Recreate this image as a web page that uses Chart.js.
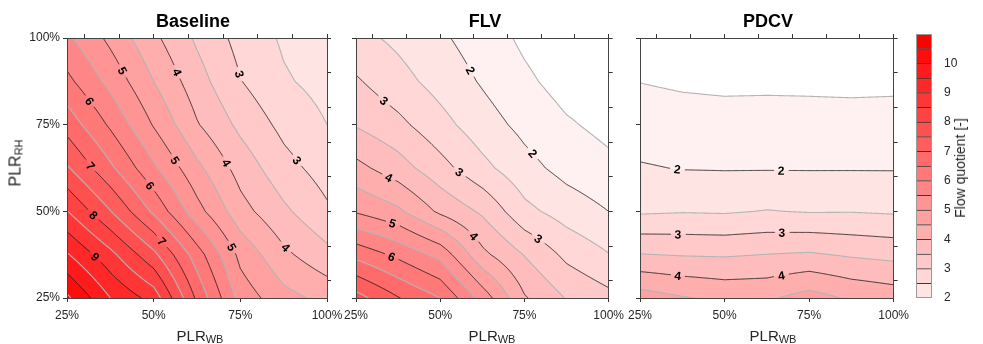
<!DOCTYPE html>
<html>
<head>
<meta charset="utf-8">
<script src="https://cdn.jsdelivr.net/npm/chart.js@4.4.1/dist/chart.umd.min.js"></script>
<style>
  body { margin: 0; background: #fff; }
  #wrap { position: relative; width: 983px; height: 344px; overflow: hidden;
          font-family: "Liberation Sans", Arial, sans-serif; color: #262626; }
  canvas { position: absolute; top: 0; }
  .title { position: absolute; top: 12px; font-size: 18px; font-weight: bold; line-height: 18px;
           color: #000; transform: translateX(-50%); white-space: nowrap; }
  .xlab { position: absolute; top: 328px; font-size: 15px; line-height: 16px;
          transform: translateX(-50%); white-space: nowrap; }
  .xlab sub, .ylab sub { font-size: 11px; vertical-align: -2px; }
  .ylab { position: absolute; font-size: 16px; line-height: 16px; white-space: nowrap;
          transform: translate(-50%, -50%) rotate(-90deg); }
  .cblab { position: absolute; font-size: 14px; line-height: 14px; white-space: nowrap;
           transform: translate(-50%, -50%) rotate(-90deg); }
</style>
</head>
<body>
<div id="wrap">
  <canvas id="baseline" width="350" height="344" style="left:0px"></canvas>
  <canvas id="flv" width="300" height="344" style="left:330px"></canvas>
  <canvas id="pdcv" width="300" height="344" style="left:615px"></canvas>
  <canvas id="cbar" width="83" height="344" style="left:900px"></canvas>

  <div class="title" style="left:193px">Baseline</div>
  <div class="title" style="left:485px">FLV</div>
  <div class="title" style="left:768px">PDCV</div>

  <div class="xlab" style="left:200px">PLR<sub>WB</sub></div>
  <div class="xlab" style="left:492px">PLR<sub>WB</sub></div>
  <div class="xlab" style="left:773px">PLR<sub>WB</sub></div>

  <div class="ylab" style="left:17px; top:163px">PLR<sub>RH</sub></div>
  <div class="cblab" style="left:960px; top:168px">Flow quotient [-]</div>
</div>

<script>
const FONT = '"Liberation Sans", Arial, sans-serif';

// ===== Data =====
// grid of part load ratios [%], rows follow gridY (bottom -> top), columns follow gridX
const gridX = [25, 37.5, 50, 62.5, 75, 87.5, 100];
const gridY = [25, 37.5, 50, 62.5, 75, 87.5, 100];

const baseline = [
  [10.6, 9.5, 8.8, 6.9, 5.3, 4.67, 4.35],
  [9.55, 8.65, 7.63, 6.24, 4.86, 4.11, 3.65],
  [8.52, 7.52, 6.4, 5.19, 4.19, 3.6, 3.08],
  [7.56, 6.6, 5.59, 4.62, 3.8, 3.18, 2.78],
  [6.8, 5.92, 4.96, 4.04, 3.38, 2.86, 2.5],
  [6.13, 5.35, 4.5, 3.71, 3.02, 2.56, 2.33],
  [5.6, 4.88, 4.11, 3.42, 2.83, 2.43, 2.2]
];

const flv = [
  [7.7, 7.03, 6.5, 5.3, 4.05, 3.47, 3.15],
  [6.35, 5.88, 5.34, 4.13, 3.48, 2.88, 2.52],
  [4.95, 4.6, 3.9, 3.42, 2.64, 2.28, 2.0],
  [4.15, 3.72, 3.18, 2.64, 2.17, 1.83, 1.62],
  [3.46, 3.13, 2.67, 2.22, 1.86, 1.56, 1.36],
  [3.06, 2.68, 2.31, 1.95, 1.6, 1.3, 1.2],
  [2.65, 2.39, 2.08, 1.76, 1.4, 1.15, 1.1]
];

const pdcv = [
  [4.75, 4.54, 4.4, 4.42, 4.71, 4.43, 4.28],
  [3.52, 3.47, 3.45, 3.51, 3.56, 3.44, 3.36],
  [2.43, 2.47, 2.45, 2.52, 2.47, 2.48, 2.44],
  [2.04, 1.98, 1.97, 1.97, 1.97, 1.97, 1.97],
  [1.76, 1.71, 1.69, 1.71, 1.69, 1.68, 1.69],
  [1.49, 1.43, 1.4, 1.4, 1.4, 1.39, 1.4],
  [1.2, 1.15, 1.12, 1.12, 1.12, 1.1, 1.12]
];

const contourLevels = [1.5, 2, 2.5, 3, 3.5, 4, 4.5, 5, 5.5, 6, 6.5, 7, 7.5, 8, 8.5, 9, 9.5, 10, 10.5];
const colorbarLevels = [2, 2.5, 3, 3.5, 4, 4.5, 5, 5.5, 6, 6.5, 7, 7.5, 8, 8.5, 9, 9.5, 10, 10.5, 11];
const colorbarTicks = [2, 3, 4, 5, 6, 7, 8, 9, 10];
const mainTicks = [25, 50, 75, 100];
const minorTicks = [30, 40, 50, 60, 70, 80, 90, 100];

// ===== Helpers =====
function bandColor(v) {
  if (v < 1.5) return [255, 255, 255];
  let lo = 1.5;
  for (const l of contourLevels) if (v >= l) lo = l;
  const g = Math.max(0, Math.round(228 * (10.5 - lo) / 8.5));
  return [255, g, g];
}

function locate(arr, v) {
  if (v <= arr[0]) return [0, 0];
  for (let i = 0; i < arr.length - 1; i++) {
    if (v <= arr[i + 1]) return [i, (v - arr[i]) / (arr[i + 1] - arr[i])];
  }
  return [arr.length - 2, 1];
}

function interp(grid, xv, yv) {
  const [i, tx] = locate(gridX, xv);
  const [j, ty] = locate(gridY, yv);
  const a = grid[j][i], b = grid[j][i + 1], c = grid[j + 1][i], d = grid[j + 1][i + 1];
  return a * (1 - tx) * (1 - ty) + b * tx * (1 - ty) + c * (1 - tx) * ty + d * tx * ty;
}

// marching squares on a (refined) grid, returns segments with edge keys
function marching(xs, ys, z, L) {
  const segs = [];
  for (let j = 0; j < ys.length - 1; j++) {
    for (let i = 0; i < xs.length - 1; i++) {
      const v0 = z[j][i], v1 = z[j][i + 1], v2 = z[j + 1][i + 1], v3 = z[j + 1][i];
      const ab = [v0 > L, v1 > L, v2 > L, v3 > L];
      const idx = ab[0] | (ab[1] << 1) | (ab[2] << 2) | (ab[3] << 3);
      if (idx === 0 || idx === 15) continue;
      const E = e => {
        if (e === 0) return { key: 'h' + i + '_' + j, p: [xs[i] + (xs[i + 1] - xs[i]) * (L - v0) / (v1 - v0), ys[j]] };
        if (e === 1) return { key: 'v' + (i + 1) + '_' + j, p: [xs[i + 1], ys[j] + (ys[j + 1] - ys[j]) * (L - v1) / (v2 - v1)] };
        if (e === 2) return { key: 'h' + i + '_' + (j + 1), p: [xs[i] + (xs[i + 1] - xs[i]) * (L - v3) / (v2 - v3), ys[j + 1]] };
        return { key: 'v' + i + '_' + j, p: [xs[i], ys[j] + (ys[j + 1] - ys[j]) * (L - v0) / (v3 - v0)] };
      };
      const crossed = [0, 1, 2, 3].filter(e => ab[e] !== ab[(e + 1) % 4]);
      let pairs;
      if (crossed.length === 2) {
        pairs = [crossed];
      } else {
        const c = (v0 + v1 + v2 + v3) / 4 > L;
        if (idx === 5) pairs = c ? [[0, 1], [2, 3]] : [[3, 0], [1, 2]];
        else pairs = c ? [[3, 0], [1, 2]] : [[0, 1], [2, 3]];
      }
      for (const [e1, e2] of pairs) {
        const A = E(e1), B = E(e2);
        segs.push({ a: A.key, b: B.key, pa: A.p, pb: B.p });
      }
    }
  }
  return segs;
}

function joinSegments(segs) {
  const map = new Map();
  segs.forEach((s, i) => {
    [s.a, s.b].forEach(k => {
      if (!map.has(k)) map.set(k, []);
      map.get(k).push(i);
    });
  });
  const used = new Array(segs.length).fill(false);
  const walk = (startIdx, startKey) => {
    const s0 = segs[startIdx];
    const pts = [startKey === s0.a ? s0.pa : s0.pb];
    let idx = startIdx, key = startKey;
    while (idx !== -1 && !used[idx]) {
      used[idx] = true;
      const s = segs[idx];
      const fromA = key === s.a;
      pts.push(fromA ? s.pb : s.pa);
      key = fromA ? s.b : s.a;
      const next = map.get(key).find(j => !used[j]);
      idx = next === undefined ? -1 : next;
    }
    return pts;
  };
  const lines = [];
  for (const [k, list] of map) {
    if (list.length === 1 && !used[list[0]]) lines.push(walk(list[0], k));
  }
  for (let i = 0; i < segs.length; i++) if (!used[i]) lines.push(walk(i, segs[i].a));
  return lines;
}

function pointAt(pts, d) {
  let acc = 0;
  for (let k = 0; k < pts.length - 1; k++) {
    const len = Math.hypot(pts[k + 1][0] - pts[k][0], pts[k + 1][1] - pts[k][1]);
    if (acc + len >= d) {
      const t = len ? (d - acc) / len : 0;
      return [pts[k][0] + (pts[k + 1][0] - pts[k][0]) * t, pts[k][1] + (pts[k + 1][1] - pts[k][1]) * t];
    }
    acc += len;
  }
  return pts[pts.length - 1];
}

function lineLength(pts) {
  let acc = 0;
  for (let k = 0; k < pts.length - 1; k++) acc += Math.hypot(pts[k + 1][0] - pts[k][0], pts[k + 1][1] - pts[k][1]);
  return acc;
}

function strokeWithGaps(ctx, pts, gaps, r) {
  ctx.beginPath();
  let pen = false;
  for (let k = 0; k < pts.length - 1; k++) {
    const [x0, y0] = pts[k], [x1, y1] = pts[k + 1];
    const n = Math.max(1, Math.ceil(Math.hypot(x1 - x0, y1 - y0)));
    for (let s = 0; s <= n; s++) {
      const x = x0 + (x1 - x0) * s / n, y = y0 + (y1 - y0) * s / n;
      if (gaps.some(g => Math.hypot(x - g[0], y - g[1]) < r)) {
        pen = false;
      } else if (!pen) {
        ctx.moveTo(x, y);
        pen = true;
      } else {
        ctx.lineTo(x, y);
      }
    }
  }
  ctx.stroke();
}

// ===== Contour plugin =====
function contourPlugin(grid) {
  return {
    id: 'contour',
    beforeDraw(chart) {
      const { ctx, chartArea: a, scales } = chart;
      const xs = scales.x, ys = scales.y;

      // filled bands
      const w = Math.round(a.right - a.left), h = Math.round(a.bottom - a.top);
      const off = document.createElement('canvas');
      off.width = w; off.height = h;
      const octx = off.getContext('2d');
      const img = octx.createImageData(w, h);
      for (let py = 0; py < h; py++) {
        const yv = ys.getValueForPixel(a.top + py + 0.5);
        for (let px = 0; px < w; px++) {
          const xv = xs.getValueForPixel(a.left + px + 0.5);
          const c = bandColor(interp(grid, xv, yv));
          const o = (py * w + px) * 4;
          img.data[o] = c[0]; img.data[o + 1] = c[1]; img.data[o + 2] = c[2]; img.data[o + 3] = 255;
        }
      }
      octx.putImageData(img, 0, 0);
      ctx.drawImage(off, a.left, a.top);

      // refined grid for contour lines
      const N = 8;
      const fx = [], fy = [];
      for (let i = 0; i < gridX.length - 1; i++) for (let s = 0; s < N; s++) fx.push(gridX[i] + (gridX[i + 1] - gridX[i]) * s / N);
      fx.push(gridX[gridX.length - 1]);
      for (let j = 0; j < gridY.length - 1; j++) for (let s = 0; s < N; s++) fy.push(gridY[j] + (gridY[j + 1] - gridY[j]) * s / N);
      fy.push(gridY[gridY.length - 1]);
      const fz = fy.map(yv => fx.map(xv => interp(grid, xv, yv)));

      ctx.save();
      ctx.beginPath();
      ctx.rect(a.left, a.top, a.right - a.left, a.bottom - a.top);
      ctx.clip();
      ctx.lineJoin = 'round';

      const labelled = [];
      const order = contourLevels.filter(l => l % 1 !== 0).concat(contourLevels.filter(l => l % 1 === 0));
      for (const L of order) {
        const major = L % 1 === 0;
        const lines = joinSegments(marching(fx, fy, fz, L)).map(line =>
          line.map(p => [xs.getPixelForValue(p[0]), ys.getPixelForValue(p[1])]));
        for (let pts of lines) {
          if (pts.length < 2) continue;
          const f = pts[0], e = pts[pts.length - 1];
          if (e[0] + e[1] < f[0] + f[1]) pts = pts.slice().reverse();
          const gaps = [];
          if (major) {
            const len = lineLength(pts);
            for (let d = 38; d <= len - 40; d += 104) {
              const c = pointAt(pts, d);
              const p0 = pointAt(pts, Math.max(0, d - 6)), p1 = pointAt(pts, Math.min(len, d + 6));
              let ang = Math.atan2(p1[1] - p0[1], p1[0] - p0[0]);
              if (ang > Math.PI / 2) ang -= Math.PI;
              if (ang < -Math.PI / 2) ang += Math.PI;
              gaps.push(c);
              labelled.push({ c, ang, text: String(L) });
            }
          }
          ctx.strokeStyle = major ? 'rgba(20,20,20,0.9)' : '#b4b4b4';
          ctx.lineWidth = major ? 0.9 : 1.1;
          strokeWithGaps(ctx, pts, gaps, 7);
        }
      }

      ctx.fillStyle = '#000';
      ctx.font = 'bold 12px ' + FONT;
      ctx.textAlign = 'center';
      ctx.textBaseline = 'middle';
      for (const lb of labelled) {
        ctx.save();
        ctx.translate(lb.c[0], lb.c[1]);
        ctx.rotate(lb.ang);
        ctx.fillText(lb.text, 0, 1);
        ctx.restore();
      }
      ctx.restore();
    }
  };
}

// ===== Charts =====
function makePanel(id, grid, leftW, rightW, showYLabels) {
  const tickFont = { family: FONT, size: 12 };
  const axisGrid = { drawOnChartArea: false, tickLength: 4, color: '#333', lineWidth: 1 };
  const border = { display: true, color: '#444', width: 1 };
  const setTicks = list => s => { s.ticks = list.map(v => ({ value: v })); };

  return new Chart(document.getElementById(id), {
    type: 'scatter',
    data: { datasets: [] },
    options: {
      animation: false,
      responsive: false,
      events: [],
      layout: { padding: 0 },
      plugins: { legend: { display: false }, tooltip: { enabled: false } },
      scales: {
        x: {
          type: 'linear', position: 'bottom', min: 25, max: 100,
          afterBuildTicks: setTicks(mainTicks),
          afterFit: s => { s.height = 46; },
          grid: axisGrid, border,
          ticks: { font: tickFont, color: '#262626', padding: 6, maxRotation: 0, autoSkip: false, callback: v => v + '%' }
        },
        xTop: {
          type: 'linear', position: 'top', min: 25, max: 100,
          afterBuildTicks: setTicks(minorTicks),
          afterFit: s => { s.height = 38; },
          grid: axisGrid, border,
          ticks: { display: false }
        },
        y: {
          type: 'linear', position: 'left', min: 25, max: 100,
          afterBuildTicks: setTicks(mainTicks),
          afterFit: s => { s.width = leftW; },
          grid: axisGrid, border,
          ticks: { display: showYLabels, font: tickFont, color: '#262626', padding: 3, autoSkip: false, callback: v => v + '%' }
        },
        yRight: {
          type: 'linear', position: 'right', min: 25, max: 100,
          afterBuildTicks: setTicks(minorTicks),
          afterFit: s => { s.width = rightW; },
          grid: axisGrid, border,
          ticks: { display: false }
        }
      }
    },
    plugins: [contourPlugin(grid)]
  });
}

function makeColorbar() {
  const bands = colorbarLevels.slice(0, -1).map((lo, i) => [lo, colorbarLevels[i + 1]]);
  const c0 = bandColor(0);
  new Chart(document.getElementById('cbar'), {
    type: 'bar',
    data: {
      labels: [''],
      datasets: bands.map(([lo, hi]) => {
        const c = bandColor(lo);
        return {
          data: [[lo, hi]],
          backgroundColor: `rgb(${c[0]},${c[1]},${c[2]})`,
          borderColor: '#3a3a3a',
          borderWidth: { top: 1, bottom: 0, left: 0, right: 0 },
          borderSkipped: false,
          grouped: false,
          barPercentage: 1,
          categoryPercentage: 1
        };
      })
    },
    options: {
      animation: false,
      responsive: false,
      events: [],
      layout: { padding: { left: 16, top: 34, bottom: 46, right: 0 } },
      plugins: { legend: { display: false }, tooltip: { enabled: false } },
      scales: {
        x: { display: false },
        y: {
          position: 'right', min: 2, max: 11,
          afterBuildTicks: s => { s.ticks = colorbarTicks.map(v => ({ value: v })); },
          afterFit: s => { s.width = 51; },
          grid: { display: false },
          border: { display: false },
          ticks: { padding: 4, font: { family: FONT, size: 12 }, color: '#262626' }
        }
      }
    },
    plugins: [{
      id: 'outline',
      afterDraw(chart) {
        const { ctx, chartArea: a } = chart;
        ctx.save();
        ctx.strokeStyle = '#9a9a9a';
        ctx.lineWidth = 1;
        ctx.strokeRect(a.left + 0.5, a.top + 0.5, a.right - a.left - 1, a.bottom - a.top - 1);
        ctx.restore();
      }
    }]
  });
}

makePanel('baseline', baseline, 67, 23, true);
makePanel('flv', flv, 26, 14, false);
makePanel('pdcv', pdcv, 25, 16, false);
makeColorbar();
</script>
</body>
</html>
